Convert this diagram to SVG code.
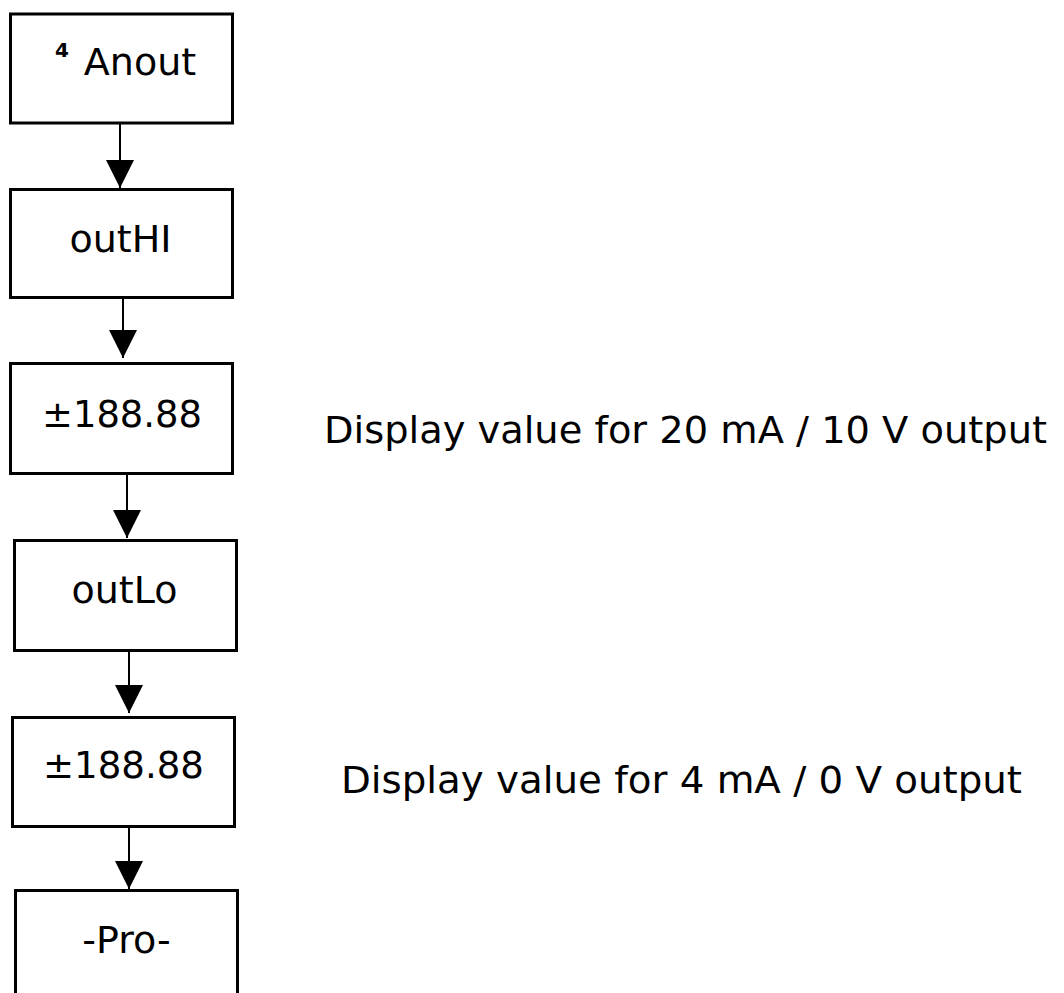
<svg xmlns="http://www.w3.org/2000/svg" width="1064" height="993" viewBox="0 0 1064 993">
<style>
.box{fill:#fff;stroke:#000;stroke-width:3}
.t{font-family:"DejaVu Sans","Verdana",sans-serif;font-size:38px;fill:#000;text-anchor:middle}
.lbl{font-family:"DejaVu Sans","Verdana",sans-serif;font-size:38px;fill:#000}
.sup{font-family:"DejaVu Sans",sans-serif;font-size:20px;font-weight:bold;fill:#000}
.c{stroke:#000;stroke-width:2;fill:none;marker-end:url(#ah)}
</style>
<defs>
<marker id="ah" viewBox="0 0 28 28" refX="28" refY="14" markerWidth="28" markerHeight="28" orient="auto" markerUnits="userSpaceOnUse">
<path d="M0,0 L28,14 L0,28 Z" fill="#000"/>
</marker>
</defs>
<rect width="1064" height="993" fill="#fff"/>
<g id="connectors">
<line class="c" x1="120" y1="123" x2="120" y2="188"/>
<line class="c" x1="123" y1="295" x2="123" y2="358"/>
<line class="c" x1="127" y1="475" x2="127" y2="538"/>
<line class="c" x1="129" y1="652" x2="129" y2="713"/>
<line class="c" x1="129" y1="828" x2="129" y2="889"/>
</g>
<g id="n1">
<rect class="box" x="10.5" y="14" width="222" height="109"/>
<text class="sup" x="55" y="57">4</text>
<text class="t" x="140" y="75">Anout</text>
</g>
<g id="n2">
<rect class="box" x="10.5" y="189.5" width="222" height="108"/>
<text class="t" x="120.5" y="252">outHI</text>
</g>
<g id="n3">
<rect class="box" x="10.5" y="363.5" width="222" height="110"/>
<text class="t" x="122" y="427" textLength="160" lengthAdjust="spacingAndGlyphs">±188.88</text>
</g>
<g id="n4">
<rect class="box" x="14.5" y="540.5" width="222" height="110"/>
<text class="t" x="124.5" y="603">outLo</text>
</g>
<g id="n5">
<rect class="box" x="12.5" y="717.5" width="222" height="109"/>
<text class="t" x="123.5" y="778" textLength="161" lengthAdjust="spacingAndGlyphs">±188.88</text>
</g>
<g id="n6">
<rect class="box" x="15.5" y="890.5" width="222" height="120"/>
<text class="t" x="126.5" y="953">-Pro-</text>
</g>
<g id="labels">
<text class="lbl" x="324" y="443" textLength="723" lengthAdjust="spacingAndGlyphs">Display value for 20 mA / 10 V output</text>
<text class="lbl" x="341" y="793" textLength="681" lengthAdjust="spacingAndGlyphs">Display value for 4 mA / 0 V output</text>
</g>
</svg>
